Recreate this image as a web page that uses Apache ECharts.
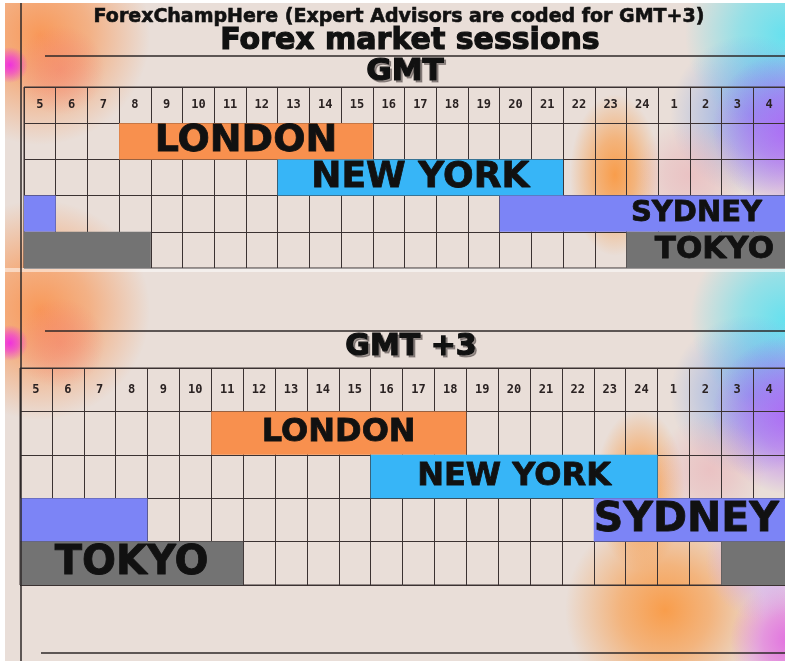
<!DOCTYPE html>
<html>
<head>
<meta charset="utf-8">
<script src="https://cdn.jsdelivr.net/npm/echarts@6/dist/echarts.min.js"></script>
<style>
  html, body { margin: 0; padding: 0; background: #e9ded8; }
  #chart { width: 785px; height: 661px; }
</style>
</head>
<body>
<div id="chart"></div>
<script>
// hour columns, same order in both tables
var hours = ['5', '6', '7', '8', '9', '10', '11', '12', '13', '14', '15', '16',
    '17', '18', '19', '20', '21', '22', '23', '24', '1', '2', '3', '4'];
// first row is the hour header
var rows = ['hours', 'LONDON', 'NEW YORK', 'SYDNEY', 'TOKYO'];

// session spans as [first hour, last hour]
var gmtLondon = [['8', '15']];
var gmtNewYork = [['13', '21']];
var gmtSydney = [['5', '5'], ['20', '4']];
var gmtTokyo = [['5', '8'], ['24', '4']];

var gmt3London = [['11', '18']];
var gmt3NewYork = [['16', '24']];
var gmt3Sydney = [['5', '8'], ['23', '4']];
var gmt3Tokyo = [['5', '11'], ['3', '4']];

var sessionColors = {
    'LONDON': '#f8904e',
    'NEW YORK': '#37b5f7',
    'SYDNEY': '#7c84f6',
    'TOKYO': '#737373'
};

// which segment carries the name, and how the name sits
var gmtLabels = [
    { seg: 0, size: 38, pos: 'inside' },
    { seg: 0, size: 36, pos: 'inside' },
    { seg: 1, size: 29, pos: 'insideRight', dist: 23 },
    { seg: 1, size: 31, pos: 'insideRight', dist: 11 }
];
var gmt3Labels = [
    { seg: 0, size: 32, pos: 'inside' },
    { seg: 0, size: 32, pos: 'inside' },
    { seg: 1, size: 41, pos: 'insideLeft', dist: 0 },
    { seg: 0, size: 40, pos: 'inside' }
];

var lineColor = '#3b3232';

function makeSeries(idx, sessions, labelCfg) {
    var items = [];
    sessions.forEach(function (sess, r) {
        sess.forEach(function (seg, k) {
            items.push({
                value: [hours.indexOf(seg[0]), hours.indexOf(seg[1]), r + 1],
                name: rows[r + 1],
                showLabel: k === labelCfg[r].seg
            });
        });
    });
    return {
        type: 'custom',
        xAxisIndex: idx,
        yAxisIndex: idx,
        encode: { x: [0, 1], y: 2 },
        data: items,
        silent: true,
        renderItem: function (params, api) {
            var it = items[params.dataIndex];
            var s = api.value(0), e = api.value(1), r = api.value(2);
            var c = api.coord([s, r]);
            var sz = api.size([1, 1]);
            var el = {
                type: 'rect',
                shape: {
                    x: c[0] - sz[0] / 2,
                    y: c[1] - sz[1] / 2,
                    width: sz[0] * (e - s + 1),
                    height: sz[1]
                },
                style: { fill: sessionColors[it.name] }
            };
            if (it.showLabel) {
                var lc = labelCfg[r - 1];
                el.textContent = {
                    style: {
                        text: it.name,
                        fontSize: lc.size,
                        fontWeight: 'bold',
                        fontFamily: 'DejaVu Sans',
                        fill: '#111',
                        stroke: '#111',
                        lineWidth: 0.8
                    }
                };
                el.textConfig = { position: lc.pos, distance: lc.dist || 0 };
            }
            return el;
        }
    };
}

function makeAxes(idx, headerH) {
    return {
        x: {
            gridIndex: idx,
            type: 'category',
            data: hours,
            position: 'top',
            axisLine: { show: false },
            axisTick: { show: false },
            axisLabel: {
                inside: true,
                interval: 0,
                margin: headerH / 2,
                verticalAlign: 'middle',
                fontFamily: 'DejaVu Sans Mono',
                fontWeight: 'bold',
                fontSize: 12,
                color: '#2a2222'
            },
            splitLine: { show: true, interval: 0, lineStyle: { color: lineColor, width: 1 } }
        },
        y: {
            gridIndex: idx,
            type: 'category',
            data: rows,
            inverse: true,
            axisLine: { show: false },
            axisTick: { show: false },
            axisLabel: { show: false },
            splitLine: { show: true, interval: 0, lineStyle: { color: lineColor, width: 1 } }
        }
    };
}

function blob(cx, cy, r, color, alpha, sx, sy) {
    var a = alpha || 0.95;
    return {
        type: 'circle',
        z: -10,
        silent: true,
        scaleX: sx || 1,
        scaleY: sy || 1,
        x: cx,
        y: cy,
        shape: { cx: 0, cy: 0, r: r },
        style: {
            fill: {
                type: 'radial', x: 0.5, y: 0.5, r: 0.5,
                colorStops: [
                    { offset: 0, color: 'rgba(' + color + ',' + a + ')' },
                    { offset: 0.45, color: 'rgba(' + color + ',' + (a * 0.65) + ')' },
                    { offset: 1, color: 'rgba(' + color + ',0)' }
                ]
            }
        }
    };
}

function text(str, x, y, size, fill, z) {
    return {
        type: 'text', z: z || 20, x: x, y: y, silent: true,
        style: {
            text: str,
            fontSize: size,
            fontWeight: 'bold',
            fontFamily: 'DejaVu Sans',
            fill: fill || '#111',
            stroke: fill || '#111',
            lineWidth: size > 25 ? 1.2 : 0.6,
            align: 'center',
            verticalAlign: 'middle'
        }
    };
}

function hline(x1, x2, y) {
    return {
        type: 'line', z: 20, silent: true,
        shape: { x1: x1, y1: y, x2: x2, y2: y },
        style: { stroke: '#2e2828', lineWidth: 1.5 }
    };
}

var a0 = makeAxes(0, 181 / 5);
var a1 = makeAxes(1, 217 / 5);

var chart = echarts.init(document.getElementById('chart'));
chart.setOption({
    backgroundColor: '#e9ded8',
    animation: false,
    grid: [
        { left: 24, right: -6, top: 87, height: 181, show: true, borderColor: lineColor, borderWidth: 1 },
        { left: 20, right: -6, top: 368, height: 217, show: true, borderColor: lineColor, borderWidth: 1 }
    ],
    xAxis: [a0.x, a1.x],
    yAxis: [a0.y, a1.y],
    series: [
        makeSeries(0, [gmtLondon, gmtNewYork, gmtSydney, gmtTokyo], gmtLabels),
        makeSeries(1, [gmt3London, gmt3NewYork, gmt3Sydney, gmt3Tokyo], gmt3Labels)
    ],
    graphic: [
        // soft colour blobs, top half
        blob(40, 35, 110, '250,145,75', 0.9),
        blob(60, 70, 45, '245,110,100', 0.4),
        blob(10, 65, 18, '240,50,220', 1),
        blob(785, 35, 100, '95,225,240', 0.95),
        blob(750, 115, 80, '85,140,240', 0.55),
        blob(792, 130, 80, '170,90,250', 0.85),
        blob(615, 175, 45, '250,150,60', 0.9, 1, 1.8),
        blob(690, 175, 55, '235,160,170', 0.45),
        // bottom half
        blob(40, 310, 110, '250,145,75', 0.9),
        blob(60, 343, 45, '245,110,100', 0.4),
        blob(10, 343, 18, '240,50,220', 1),
        blob(785, 320, 95, '95,225,240', 0.95),
        blob(750, 395, 80, '85,140,240', 0.55),
        blob(792, 415, 80, '170,90,250', 0.85),
        blob(640, 490, 45, '250,150,60', 0.9, 1, 1.8),
        blob(665, 610, 100, '250,150,60', 0.9),
        blob(710, 470, 55, '235,160,170', 0.45),
        blob(790, 640, 60, '225,100,225', 0.9),
        blob(765, 560, 60, '205,160,250', 0.7),
        // frame
        { type: 'rect', z: 30, silent: true, shape: { x: 0, y: 0, width: 5, height: 661 }, style: { fill: '#ffffff' } },
        { type: 'rect', z: 30, silent: true, shape: { x: 0, y: 0, width: 785, height: 3 }, style: { fill: '#ffffff' } },
        { type: 'rect', z: 15, silent: true, shape: { x: 0, y: 268, width: 785, height: 4 }, style: { fill: 'rgba(255,255,255,0.5)' } },
        {
            type: 'line', z: 20, silent: true,
            shape: { x1: 21, y1: 0, x2: 21, y2: 661 },
            style: { stroke: '#2e2828', lineWidth: 1.5 }
        },
        hline(45, 785, 56),
        hline(45, 785, 331),
        hline(41, 785, 653),
        text('ForexChampHere (Expert Advisors are coded for GMT+3)', 399, 17, 19),
        text('Forex market sessions', 410, 41, 30),
        text('GMT', 407, 74, 31, 'rgba(60,50,50,0.45)', 19),
        text('GMT', 405, 72, 31),
        text('GMT +3', 413, 349, 30, 'rgba(60,50,50,0.45)', 19),
        text('GMT +3', 411, 347, 30)
    ]
});
</script>
</body>
</html>
